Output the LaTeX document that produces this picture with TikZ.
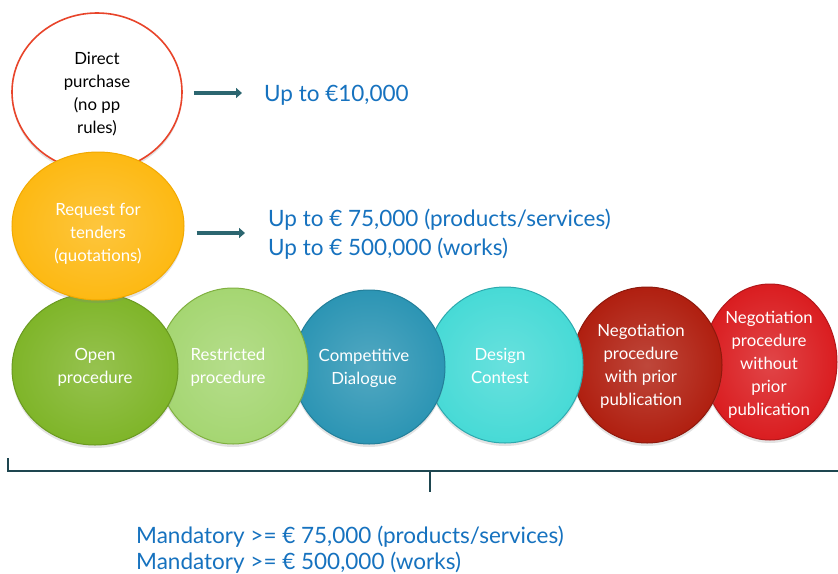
\documentclass[tikz,border=0pt]{standalone}
\usepackage{fontspec}
\setmainfont{Lato}
\usetikzlibrary{shapes.geometric,shadows,arrows.meta}
\definecolor{dpred}{HTML}{E8442A}
\definecolor{cyel}{HTML}{FDB913}
\definecolor{cyeld}{HTML}{F2A900}
\definecolor{copen}{HTML}{7FB529}
\definecolor{copend}{HTML}{6A9A20}
\definecolor{crest}{HTML}{A5D672}
\definecolor{crestd}{HTML}{80B040}
\definecolor{ccomp}{HTML}{2C95B4}
\definecolor{ccompd}{HTML}{237F9A}
\definecolor{cdes}{HTML}{47DAD6}
\definecolor{cdesd}{HTML}{2DA9AE}
\definecolor{cnegw}{HTML}{B01F10}
\definecolor{cnegwd}{HTML}{8E190D}
\definecolor{cnego}{HTML}{DA1D20}
\definecolor{cnegod}{HTML}{B3171A}
\definecolor{arrcol}{HTML}{2C6670}
\definecolor{bluetxt}{HTML}{1672BF}
\definecolor{bracecol}{HTML}{1E4650}
\begin{document}
\begin{tikzpicture}[x=1pt,y=-1pt,
  bubble/.style={ellipse, inner sep=0pt, line width=1pt,
     drop shadow={opacity=0.22, shadow xshift=0pt, shadow yshift=-3pt}},
  fillas/.style 2 args={shade, inner color=#1!82!white, outer color=#1, draw=#2},
  btext/.style={align=center, inner sep=0pt, text=white, font=\fontsize{16.8}{23}\selectfont},
  info/.style={anchor=west, align=left, inner sep=0pt, text=bluetxt, font=\fontsize{22.5}{29}\selectfont},
  arr/.style={draw=arrcol, line width=3.5pt, -{Triangle[length=6pt,width=10pt]}},
  bracel/.style={draw=bracecol, line width=2.8pt}]
\useasboundingbox[fill=white] (0,0) rectangle (838,573);

% bottom row, drawn right to left
\node[bubble, fillas={cnego}{cnegod}, minimum width=134pt, minimum height=156pt] (negwo) at (770,362) {};
\node[bubble, fillas={cnegw}{cnegwd}, minimum width=150pt, minimum height=156pt] (negw) at (647,365) {};
\node[bubble, fillas={cdes}{cdesd}, minimum width=156pt, minimum height=156pt] (des) at (505,365) {};
\node[bubble, fillas={ccomp}{ccompd}, minimum width=152pt, minimum height=154pt] (comp) at (369,367) {};
\node[bubble, fillas={crest}{crestd}, minimum width=150pt, minimum height=156pt] (rest) at (233,366) {};
\node[bubble, fillas={copen}{copend}, minimum width=166pt, minimum height=152pt] (open) at (95,369) {};

% top two
\node[bubble, fill=white, draw=dpred, line width=1.6pt, drop shadow={opacity=0}, minimum width=170pt, minimum height=158pt] (dp) at (97,92) {};
\node[bubble, fillas={cyel}{cyeld}, minimum width=172pt, minimum height=148pt] (req) at (98,226) {};

% texts in bubbles
\node[btext, text=black] (dpt) at (97,94.5) {Direct\\purchase\\(no pp\\rules)};
\node[btext] (reqt) at (98,234) {Request for\\tenders\\(quotations)};
\node[btext] (opent) at (95,367) {Open\\procedure};
\node[btext] (restt) at (228,367.5) {Restricted\\procedure};
\node[btext] (compt) at (364,368) {Competitive\\Dialogue};
\node[btext] (dest) at (500,366) {Design\\Contest};
\node[btext] (negwt) at (641,366) {Negotiation\\procedure\\with prior\\publication};
\node[btext] (negot) at (769,365) {Negotiation\\procedure\\without\\prior\\publication};

% info texts
\node[info] (t1) at (264,95) {Up to €10,000};
\node[info] (t2) at (268,234.5) {Up to € 75,000 (products/services)\\Up to € 500,000 (works)};
\node[info, font=\fontsize{22.5}{26}\selectfont] (t3) at (136,550) {Mandatory >= € 75,000 (products/services)\\Mandatory >= € 500,000 (works)};

% arrows
\draw[arr] ([xshift=11pt]dp.east |- 0,93) -- ([xshift=-22pt]t1.west |- 0,93);
\draw[arr] ([xshift=12pt]req.east |- 0,233) -- ([xshift=-23pt]t2.west |- 0,233);

% bracket
\coordinate (bl) at (8,458);
\coordinate (bc) at (430,471);
\coordinate (br) at (840,471);
\draw[bracel] (bl) -- (bl |- bc) -- (br);
\draw[bracel] (bc) -- ++(0,21);
\end{tikzpicture}
\end{document}
